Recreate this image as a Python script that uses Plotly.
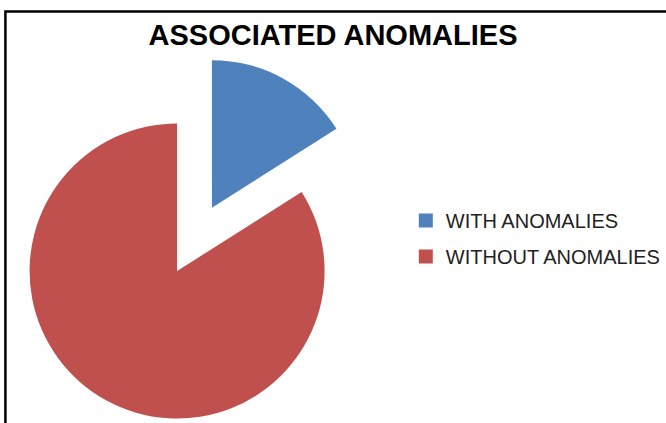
import plotly.graph_objects as go

# ---- data ----
title_text = "ASSOCIATED ANOMALIES"
labels = ["WITH ANOMALIES", "WITHOUT ANOMALIES"]
values = [16, 84]
colors = ["#4F81BD", "#C0504D"]
pulls = [0.245, 0.245]

W, H = 666, 423
fig = go.Figure()

fig.add_trace(go.Pie(
    labels=labels,
    values=values,
    pull=pulls,
    sort=False,
    direction="clockwise",
    rotation=0,
    textinfo="none",
    marker=dict(colors=colors, line=dict(width=0)),
    domain=dict(x=[0.0165, 0.5765], y=[0.0, 0.8683]),
    showlegend=False,
))

# legend entries (one per category)
for lab, col in zip(labels, colors):
    fig.add_trace(go.Scatter(
        x=[None], y=[None], mode="markers", name=lab, legendgroup=lab,
        marker=dict(symbol="square", size=14, color=col),
        showlegend=True, hoverinfo="skip",
    ))

fig.update_layout(
    width=W, height=H,
    margin=dict(l=0, r=0, t=0, b=0),
    paper_bgcolor="white", plot_bgcolor="white",
    title=dict(
        text=title_text, x=0.5, xanchor="center",
        y=1 - 35 / H, yanchor="middle", yref="container",
        font=dict(family="Liberation Sans, Arial", size=29, color="black", weight="bold"),
    ),
    xaxis=dict(visible=False), yaxis=dict(visible=False),
    legend=dict(
        x=412 / W, xanchor="left", y=1 - 201 / H, yanchor="top",
        font=dict(family="Liberation Sans, Arial", size=20, color="#222222"),
        tracegroupgap=7, bgcolor="rgba(0,0,0,0)",
        itemclick=False, itemdoubleclick=False,
    ),
    shapes=[dict(
        type="rect", xref="paper", yref="paper",
        x0=5.5 / W, x1=1.05, y0=-0.05, y1=1 - 11.5 / H,
        line=dict(color="black", width=2.5), fillcolor="rgba(0,0,0,0)",
        layer="above",
    )],
)

fig.write_html("out.html", config={"displayModeBar": False},
               post_script="document.body.style.margin='0';")
